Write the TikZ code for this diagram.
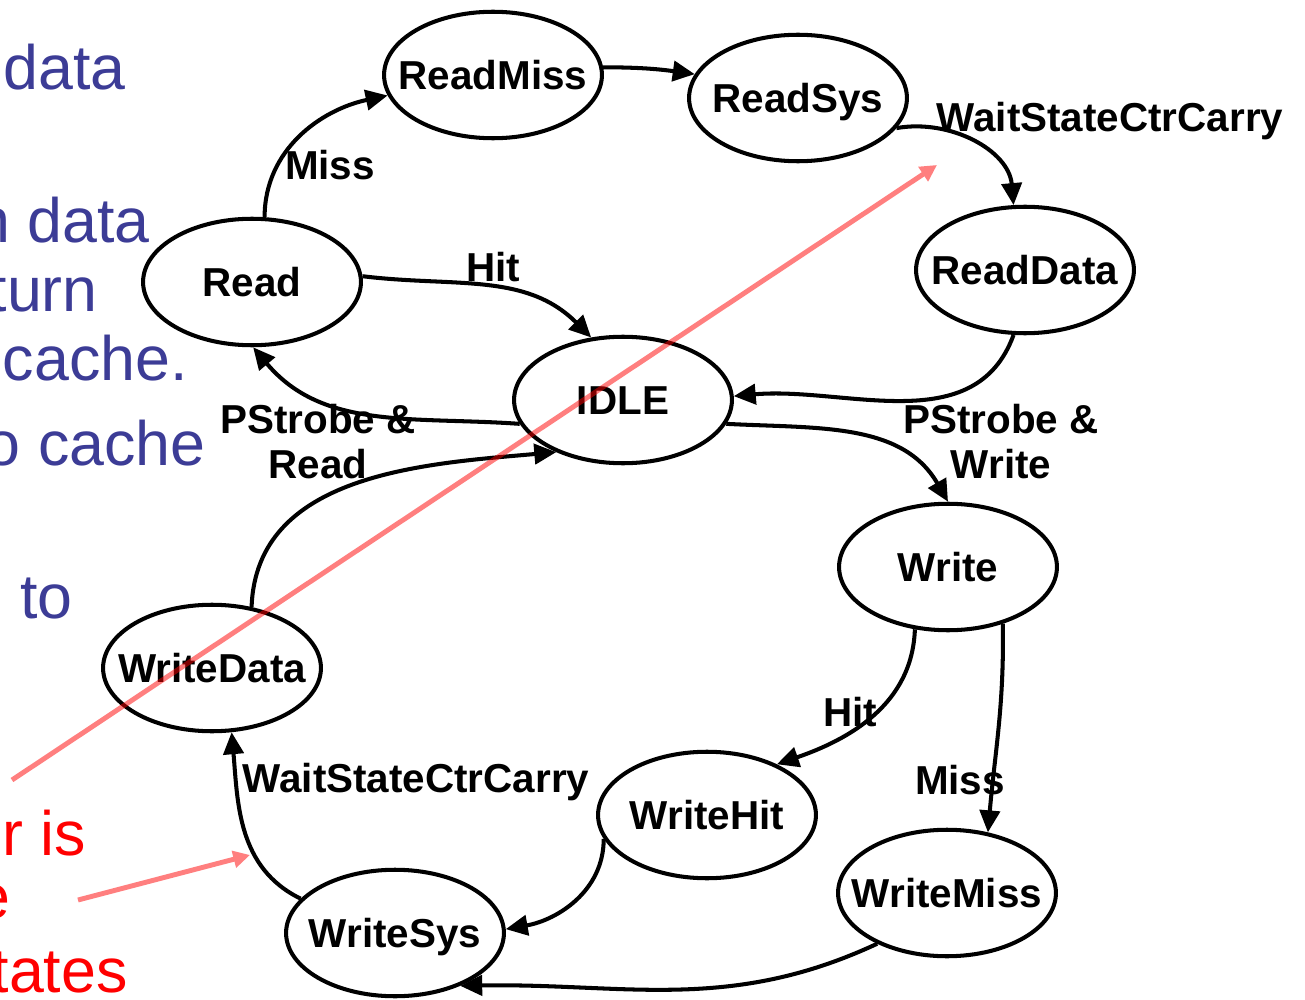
\documentclass[tikz,border=0pt]{standalone}
\usepackage{fontspec}
\setmainfont{Liberation Sans}
\usetikzlibrary{arrows.meta,shapes.geometric}
\definecolor{slideblue}{RGB}{60,60,150}
\definecolor{slidered}{RGB}{255,0,0}
\tikzset{
  statering/.style={ellipse, draw=black, line width=2.3pt,
    minimum width=124pt, minimum height=72pt, inner sep=0pt},
  statename/.style={font=\fontsize{23}{25.5}\selectfont\bfseries,
    inner sep=0pt, text height=16.5pt, text depth=0pt},
  cond/.style={font=\fontsize{23}{25.5}\selectfont\bfseries,
    inner sep=0pt, text height=16.5pt, text depth=0pt},
  condpair/.style={font=\fontsize{23}{25.5}\selectfont\bfseries,
    inner sep=0pt, align=center, anchor=north},
  trans/.style={line width=2.3pt, -{Triangle[length=12.5pt,width=11.5pt]}},
  pointer/.style={line width=2.8pt, draw=slidered, -{Triangle[length=9.5pt,width=9.5pt]}},
  slidetext/.style={font=\fontsize{35.7}{40}\selectfont, inner sep=0pt, anchor=base east},
}
\begin{document}
\begin{tikzpicture}[x=0.02cm, y=-0.02cm]
\useasboundingbox (0,0) rectangle (1305,1000);
\clip (0,0) rectangle (1305,1000);

% slide text running in from the left
\node[slidetext, text=slideblue] (t1) at (126,90)  {data};
\node[slidetext, text=slideblue] (t2) at (150,243) {n data};
\node[slidetext, text=slideblue] (t3) at (98,312)  {turn};
\node[slidetext, text=slideblue] (t4) at (188,380) {cache.};
\node[slidetext, text=slideblue] (t5) at (206,465) {o cache};
\node[slidetext, text=slideblue] (t6) at (73,618)  {to};
\node[slidetext, text=slidered]  (t7) at (86,855)  {r is};
\node[slidetext, text=slidered]  (t8) at (11,918)  {e};
\node[slidetext, text=slidered]  (t9) at (128,992) {tates};

% states
\node[statering] (rm)   at (493,75)  {};
\node[statering] (rs)   at (798,98)  {};
\node[statering] (rd)   at (252,282) {};
\node[statering] (rdd)  at (1025,270) {};
\node[statering] (idle) at (623,400) {};
\node[statering] (wr)   at (948,567) {};
\node[statering] (wd)   at (212,668) {};
\node[statering] (wh)   at (707,815) {};
\node[statering] (wm)   at (947,893) {};
\node[statering] (ws)   at (395,933) {};

\node[statename] (rmT)   at (rm)   {ReadMiss};
\node[statename] (rsT)   at (rs)   {ReadSys};
\node[statename] (rdT)   at (rd)   {Read};
\node[statename] (rddT)  at (rdd)  {ReadData};
\node[statename] (idleT) at (idle) {IDLE};
\node[statename] (wrT)   at (wr)   {Write};
\node[statename] (wdT)   at (wd)   {WriteData};
\node[statename] (whT)   at (wh)   {WriteHit};
\node[statename] (wmT)   at (wm)   {WriteMiss};
\node[statename] (wsT)   at (ws)   {WriteSys};

% transitions
\draw[trans] (rd.79)    to[out=90,  in=192] (rm.191);
\draw[trans] (rm.4)     to[out=0,   in=172] (rs.167);
\draw[trans] (rs.-17)   to[out=10,  in=95]  (rdd.100);
\draw[trans] (rdd.-100) to[out=-110,in=5]   (idle.2);
\draw[trans] (rd.3)     to[out=-7,  in=135] (idle.117);
\draw[trans] (idle.193) to[out=176, in=-50] (rd.-89);
\draw[trans] (wd.57)    to[out=88,  in=185] (idle.218);
\draw[trans] (idle.-13) to[out=-3,  in=120] (wr.90);
\draw[trans] (wr.242)   to[out=-92, in=19]  (wh.36);
\draw[trans] (wr.-46)   to[out=-89, in=85]  (wm.56);
\draw[trans] (wh.193)   to[out=-90, in=10]  (ws.2);
\draw[trans] (wm.216)   to[out=-155,in=1]   (ws.-39);
\draw[trans] (ws.160)   to[out=154, in=-85] (wd.-73);

% transition conditions
\node[cond] (cMiss1) at (330,165)  {Miss};
\node[cond] (cWait1) at (1110,117) {WaitStateCtrCarry};
\node[cond] (cHit1)  at (493,267)  {Hit};
\node[condpair] (cPR) at (318,404) {PStrobe \&\\Read};
\node[condpair] (cPW) at (1001,404) {PStrobe \&\\Write};
\node[cond] (cHit2)  at (850,712)  {Hit};
\node[cond] (cMiss2) at (960,780)  {Miss};
\node[cond] (cWait2) at (416,778)  {WaitStateCtrCarry};

% annotation pointers
\coordinate (p1a) at (12,780);
\coordinate (p1b) at (937,165);
\coordinate (p2a) at (78,900);
\coordinate (p2b) at (250,855);
\begin{scope}[transparency group, opacity=0.5]
  \draw[pointer] (p1a) -- (p1b);
  \draw[pointer] (p2a) -- (p2b);
\end{scope}
\end{tikzpicture}
\end{document}
